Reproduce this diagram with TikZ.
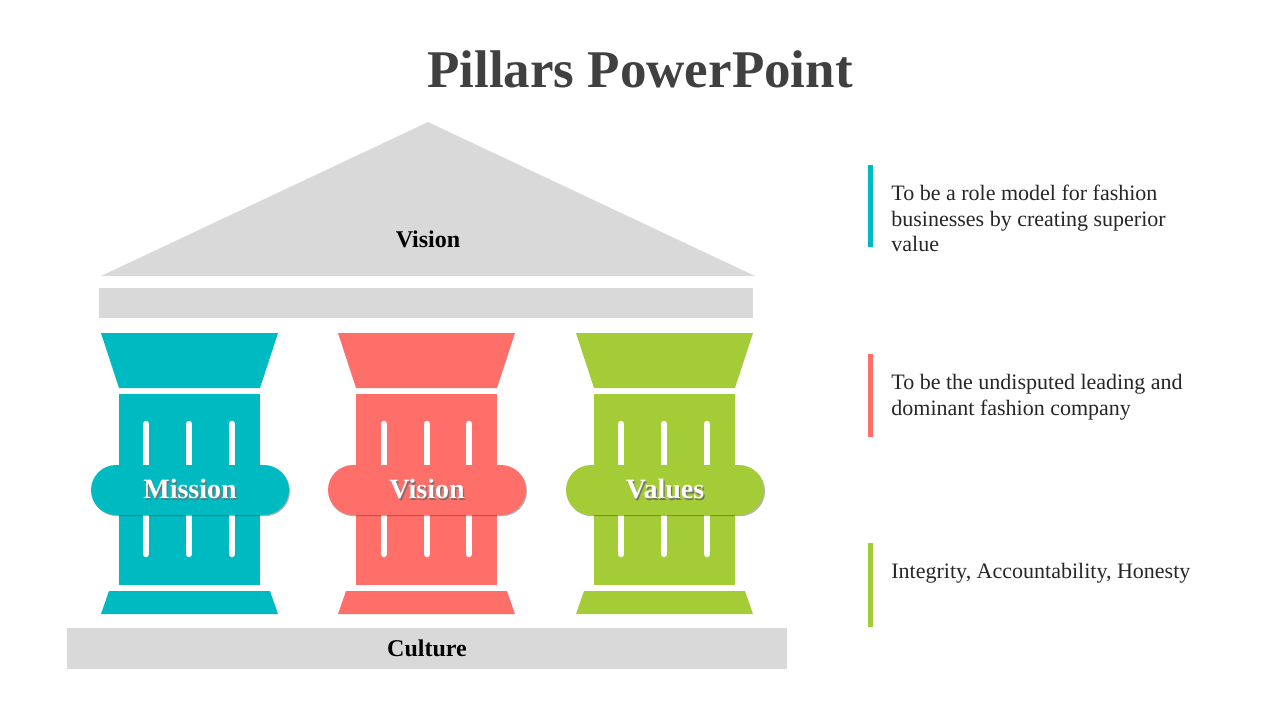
\documentclass[tikz,border=0pt]{standalone}
\usepackage{fontspec}
\setmainfont{Liberation Serif}
\usetikzlibrary{positioning,shadows}

\definecolor{pilcyan}{HTML}{00BAC1}
\definecolor{pilred}{HTML}{FF6F69}
\definecolor{pilgreen}{HTML}{A3CC37}
\definecolor{roofgray}{HTML}{D9D9D9}
\definecolor{titlegray}{HTML}{404040}
\definecolor{bodytext}{HTML}{262626}

% white label with a soft dark copy behind it
\newcommand\pillabel[1]{\makebox[0pt][l]{\kern0.7pt\raisebox{-0.7pt}{\textcolor{black!55}{#1}}}#1}

\tikzset{
  flute/.style={white, line width=3.25pt, line cap=round},
  pill/.style={rounded corners=12.5pt, minimum width=99pt, minimum height=25pt,
    text=white, font=\fontsize{14}{16}\selectfont\bfseries,
    drop shadow={shadow xshift=0.5pt, shadow yshift=-0.6pt, opacity=0.3, fill=black}},
  desc/.style={anchor=north west, align=left, text=bodytext,
    font=\fontsize{11}{12.75}\selectfont, inner sep=0pt},
  accent/.style={line width=2.5pt},
  slab/.style={font=\fontsize{12}{14}\selectfont\bfseries, text=black},
}

\begin{document}
\begin{tikzpicture}[x=0.5pt, y=-0.5pt]
            \useasboundingbox (0,0) rectangle (1280,720);

            \node[font=\fontsize{26.5}{30}\selectfont\bfseries, text=titlegray] (title) at (640,69) {Pillars PowerPoint};

            % roof and beam
            \fill[roofgray] (101,276) -- (428,122) -- (755,276) -- cycle;
            \node[slab] (vision) at (428,239) {Vision};
            \fill[roofgray] (99,288) rectangle (753,318);

            % cyan pillar
            \fill[pilcyan] (101,333) -- (278,333) -- (260,388) -- (119,388) -- cycle;
            \fill[pilcyan] (119,394) rectangle (260,585);
            \fill[pilcyan] (109,591) -- (270,591) -- (278,614) -- (101,614) -- cycle;
            \draw[flute] (146,424) -- (146,554) (189,424) -- (189,554) (232,424) -- (232,554);
            \node[pill, fill=pilcyan] (mission) at (190,490) {\pillabel{Mission}};

            % red pillar
            \fill[pilred] (338,333) -- (515,333) -- (497,388) -- (356,388) -- cycle;
            \fill[pilred] (356,394) rectangle (497,585);
            \fill[pilred] (346,591) -- (507,591) -- (515,614) -- (338,614) -- cycle;
            \draw[flute] (384,424) -- (384,554) (427,424) -- (427,554) (469,424) -- (469,554);
            \node[pill, fill=pilred] (visionpill) at (427,490) {\pillabel{Vision}};

            % green pillar
            \fill[pilgreen] (576,333) -- (753,333) -- (735,388) -- (594,388) -- cycle;
            \fill[pilgreen] (594,394) rectangle (735,585);
            \fill[pilgreen] (584,591) -- (745,591) -- (753,614) -- (576,614) -- cycle;
            \draw[flute] (621,424) -- (621,554) (664,424) -- (664,554) (707,424) -- (707,554);
            \node[pill, fill=pilgreen] (values) at (665,490) {\pillabel{Values}};

            % base
            \node[fill=roofgray, minimum width=360pt, minimum height=20.5pt, slab] (culture) at (427,648.5) {\raisebox{-1pt}{Culture}};

            % right-hand texts
            \draw[accent, pilcyan] (870.5,165) -- (870.5,247);
            \node[desc] (mtext) at (891,185) {To be a role model for fashion\\businesses by creating superior\\value};
            \draw[accent, pilred] (870.5,354) -- (870.5,437);
            \node[desc] (vtext) at (891,374) {To be the undisputed leading and\\dominant fashion company};
            \draw[accent, pilgreen] (870.5,543) -- (870.5,627);
            \node[desc] (valtext) at (891,563) {Integrity, Accountability, Honesty};
\end{tikzpicture}
\end{document}
